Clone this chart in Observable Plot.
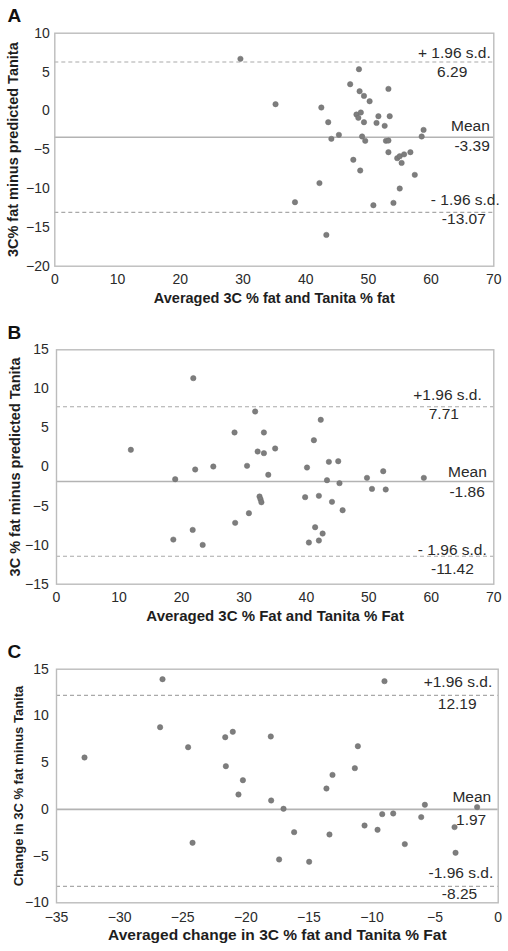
<!DOCTYPE html>
<html><head><meta charset="utf-8">
<script src="https://cdn.jsdelivr.net/npm/d3@7"></script>
<script src="https://cdn.jsdelivr.net/npm/@observablehq/plot@0.6"></script>
<style>
html,body{margin:0;padding:0;background:#fff;}
#chart{width:508px;height:951px;position:relative;font-family:"Liberation Sans",Arial,sans-serif;}
#chart svg{display:block;}
</style></head><body><div id="chart"></div>
<script>
// ---- Panel A ----
const aAvg = [29.6,35.2,42.5,43.6,44.1,45.3,42.2,38.3,43.3,47.1,48.5,48.6,49.3,50.2,48.1,48.4,48.8,49.3,49.0,49.5,47.6,48.7,51.6,51.3,52.6,53.2,53.4,52.8,53.2,53.2,54.6,55.0,55.3,55.7,56.7,55.0,50.8,54.0,57.4,58.5,58.8];
const aDiff = [6.7,0.86,0.43,-1.46,-3.6,-3.09,-9.3,-11.76,-15.97,3.43,5.36,2.53,1.93,1.24,-0.47,-0.9,-0.21,-1.46,-3.3,-3.86,-6.3,-7.68,-0.69,-1.55,-1.93,2.83,-0.69,-3.86,-3.82,-5.32,-6.09,-5.84,-6.7,-5.6,-5.32,-10.0,-12.15,-11.85,-8.24,-3.3,-2.45];
const aLimits = [6.29, -3.39, -13.07];       // upper, mean, lower
const aLimitNames = ["+ 1.96 s.d.", "Mean", "- 1.96 s.d."];
const aXTicks = [0,10,20,30,40,50,60,70];
const aYTicks = [-20,-15,-10,-5,0,5,10];
const aXTitle = "Averaged 3C % fat and Tanita % fat";
const aYTitle = "3C% fat minus predicted Tanita";

// ---- Panel B ----
const bAvg = [11.9,21.9,19.0,22.2,25.1,28.5,30.5,31.8,32.2,33.2,33.2,35.0,33.9,32.5,32.66,32.8,30.8,28.6,21.8,18.7,23.4,40.1,41.2,42.3,43.6,45.1,43.3,45.3,39.8,42.0,44.1,45.8,41.4,42.6,42.0,40.4,49.7,50.5,52.3,52.7,58.8];
const bDiff = [2.2,11.37,-1.56,-0.32,0.06,4.42,0.15,7.1,1.98,1.77,4.42,2.37,-1.0,-3.78,-4.13,-4.51,-5.91,-7.15,-8.05,-9.29,-9.97,-0.07,3.43,6.04,0.66,0.74,-1.69,-2.07,-3.86,-3.69,-4.46,-5.53,-7.71,-8.52,-9.41,-9.67,-1.39,-2.8,-0.54,-2.88,-1.39];
const bLimits = [7.71, -1.86, -11.42];
const bLimitNames = ["+1.96 s.d.", "Mean", "- 1.96 s.d."];
const bXTicks = [0,10,20,30,40,50,60,70];
const bYTicks = [-15,-10,-5,0,5,10,15];
const bXTitle = "Averaged 3C % Fat and Tanita % Fat";
const bYTitle = "3C % fat minus predicted Tanita";

// ---- Panel C ----
const cAvg = [-32.78,-26.6,-26.79,-24.57,-24.22,-21.63,-21.03,-21.58,-20.23,-20.58,-18.02,-17.99,-17.01,-17.36,-16.17,-14.98,-13.61,-13.13,-13.37,-11.36,-11.12,-10.59,-9.56,-9.19,-9.01,-8.32,-7.40,-6.10,-5.81,-3.46,-3.38,-1.67];
const cDiff = [5.55,13.93,8.79,6.65,-3.58,7.72,8.3,4.62,3.12,1.59,7.8,0.95,0.06,-5.36,-2.44,-5.61,2.23,3.69,-2.69,4.41,6.76,-1.73,-2.19,-0.51,13.72,-0.44,-3.72,-0.83,0.49,-1.9,-4.65,0.24];
const cLimits = [12.19, 1.97, -8.25];
const cLimitNames = ["+1.96 s.d.", "Mean", "-1.96 s.d."];
const cSolidLine = 0;  // the solid reference line in panel C sits at zero
const cXTicks = [-35,-30,-25,-20,-15,-10,-5,0];
const cYTicks = [-10,-5,0,5,10,15];
const cXTitle = "Averaged change in 3C % fat and Tanita % Fat";
const cYTitle = "Change in 3C % fat minus Tanita";

const FONT = "'Liberation Sans', Arial, sans-serif";
const INK = "#2a2a2a";

function txt(y, s, o) {
  return Plot.text([y], {y: d => d, text: () => s, frameAnchor: "right", lineAnchor: "middle", fill: INK, fontSize: 15.5, ...o});
}

function panel(c) {
  const pts = c.x.map((v, i) => ({x: v, y: c.y[i]}));
  const [up, mean, lo] = c.limits;
  const solid = c.solid ?? mean;
  const L = c.lab;
  return Plot.plot({
    width: 508, height: c.height,
    marginTop: c.mt, marginRight: c.mr, marginBottom: c.mb, marginLeft: c.ml,
    style: {fontFamily: FONT, fontSize: "14px", background: "transparent", overflow: "visible", color: INK},
    x: {domain: c.xDomain},
    y: {domain: c.yDomain},
    marks: [
      Plot.ruleY([up, lo], {stroke: "#a9a9a9", strokeWidth: 1.2, strokeDasharray: "4,3"}),
      Plot.ruleY([solid], {stroke: "#b3b3b3", strokeWidth: 1.6}),
      Plot.frame({stroke: "#bcbcbc", strokeWidth: 1.4}),
      Plot.dot(pts, {x: "x", y: "y", r: 2.7, fill: "#7d7d7d", stroke: "#6f6f6f", strokeWidth: 0.5}),
      Plot.axisX({ticks: c.xTicks, tickSize: 0, tickPadding: c.xPad, label: null, fill: INK}),
      Plot.axisY({ticks: c.yTicks, tickSize: 0, tickPadding: c.yPad, label: null, fill: INK}),
      Plot.text([c.xTitle], {text: d => d, frameAnchor: "bottom", textAnchor: "middle", lineAnchor: "middle", dy: c.xTitleDy, fontWeight: "bold", fontSize: c.xTitleSize, fill: "#1e1e1e"}),
      Plot.text([c.yTitle], {text: d => d, frameAnchor: "left", textAnchor: "middle", lineAnchor: "middle", dx: c.yTitleDx, rotate: -90, fontWeight: "bold", fontSize: c.yTitleSize, fill: "#1e1e1e"}),
      Plot.text([c.letter], {text: d => d, frameAnchor: "top-left", dx: c.letterDx, dy: c.letterDy, textAnchor: "start", lineAnchor: "middle", fontWeight: "bold", fontSize: 19, fill: "#111"}),
      txt(up, c.names[0], {textAnchor: "end", dx: L[0][0], dy: L[0][1]}),
      txt(up, up.toFixed(2), {textAnchor: "middle", dx: L[1][0], dy: L[1][1]}),
      txt(solid, c.names[1], {textAnchor: "end", dx: L[2][0], dy: L[2][1]}),
      txt(solid, mean.toFixed(2), {textAnchor: "end", dx: L[3][0], dy: L[3][1]}),
      txt(lo, c.names[2], {textAnchor: "end", dx: L[4][0], dy: L[4][1]}),
      txt(lo, lo.toFixed(2), {textAnchor: "end", dx: L[5][0], dy: L[5][1]})
    ]
  });
}

const root = document.getElementById("chart");

root.append(panel({
  letter: "A", x: aAvg, y: aDiff, limits: aLimits, names: aLimitNames,
  xTicks: aXTicks, yTicks: aYTicks, xDomain: [0, 70], yDomain: [-20, 10],
  xTitle: aXTitle, yTitle: aYTitle,
  height: 305, mt: 32.7, mr: 14.7, mb: 39.3, ml: 54.3,
  xPad: 7.5, yPad: 5, xTitleDy: 32, xTitleSize: 14.5, yTitleDx: -41, yTitleSize: 14.5,
  letterDx: -47.3, letterDy: -17.7,
  lab: [[-3, -9], [-41.6, 10.5], [-4, -11], [-4, 8.5], [6, -12], [-8, 7]]
}));

root.append(panel({
  letter: "B", x: bAvg, y: bDiff, limits: bLimits, names: bLimitNames,
  xTicks: bXTicks, yTicks: bYTicks, xDomain: [0, 70], yDomain: [-15, 15],
  xTitle: bXTitle, yTitle: bYTitle,
  height: 320, mt: 44.3, mr: 14.7, mb: 41.3, ml: 56,
  xPad: 8, yPad: 7.7, xTitleDy: 32, xTitleSize: 15, yTitleDx: -41, yTitleSize: 14.5,
  letterDx: -49, letterDy: -17,
  lab: [[-12, -12], [-50, 7.5], [-7, -10], [-9, 10], [-7, -6], [-20, 13]]
}));

root.append(panel({
  letter: "C", x: cAvg, y: cDiff, limits: cLimits, names: cLimitNames, solid: cSolidLine,
  xTicks: cXTicks, yTicks: cYTicks, xDomain: [-35, 0], yDomain: [-10, 15],
  xTitle: cXTitle, yTitle: cYTitle,
  height: 326, mt: 43.7, mr: 10.3, mb: 48.7, ml: 56,
  xPad: 9, yPad: 7.7, xTitleDy: 32, xTitleSize: 15.5, yTitleDx: -37.7, yTitleSize: 13,
  letterDx: -49, letterDy: -17.2,
  lab: [[-6, -13], [-41, 9], [-7, -12], [-12, 10.5], [-5, -13], [-21, 8]]
}));
</script></body></html>
